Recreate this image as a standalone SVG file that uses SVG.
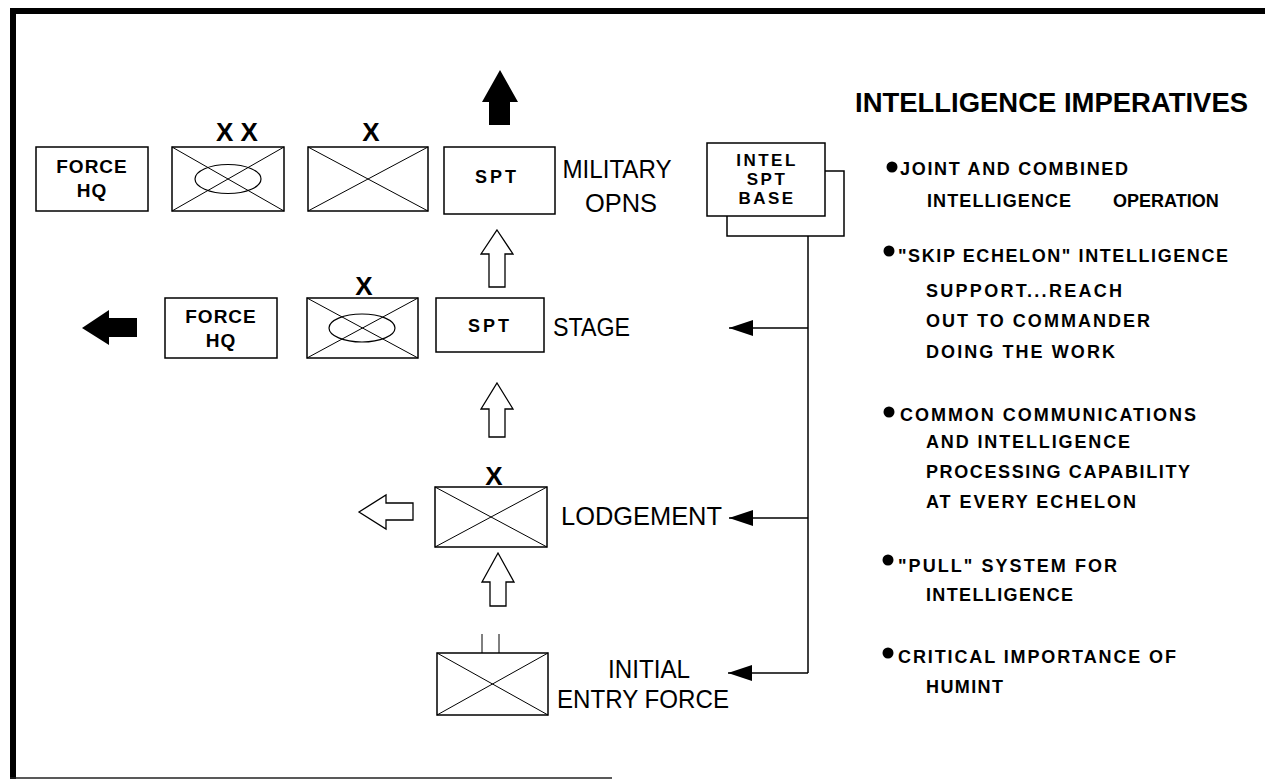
<svg xmlns="http://www.w3.org/2000/svg" width="1265" height="780" viewBox="0 0 1265 780">
<style>
.bx{fill:#fff;stroke:#000;stroke-width:1.5}
.dg{stroke:#000;stroke-width:1;fill:none}
.el{fill:none;stroke:#000;stroke-width:1.2}
.lb{font-family:"Liberation Sans",Arial,sans-serif;font-weight:bold;fill:#000;text-anchor:middle}
.big{font-family:"Liberation Sans",Arial,sans-serif;fill:#000;font-size:26px}
.bl{font-family:"Liberation Sans",Arial,sans-serif;font-weight:bold;fill:#000;font-size:18px}
.ho{fill:#fff;stroke:#000;stroke-width:1.3;stroke-linejoin:miter}
.sol{fill:#000;stroke:none}
.cn{stroke:#000;stroke-width:1.5;fill:none}
</style>
<defs>
<marker id="ah" viewBox="0 0 24 16" refX="24" refY="8" markerWidth="24" markerHeight="16" markerUnits="userSpaceOnUse" orient="auto">
<path d="M0,0 L24,8 L0,16 Z" fill="#000"/>
</marker>
</defs>
<rect width="1265" height="780" fill="#fff"/>
<g id="frame">
<rect x="10" y="8" width="1255" height="6" fill="#000"/>
<rect x="10" y="8" width="6" height="771" fill="#000"/>
<line x1="10" y1="778" x2="612" y2="778" stroke="#222" stroke-width="1.5"/>
</g>

<g id="forcehq1">
<rect class="bx" x="36" y="147" width="112" height="64"/>
<text class="lb" x="92" y="173" font-size="19" letter-spacing="1">FORCE</text>
<text class="lb" x="92" y="197" font-size="19" letter-spacing="1">HQ</text>
</g>
<g id="div1">
<rect class="bx" x="172" y="147" width="112" height="64"/>
<path class="dg" d="M172,147 L284,211 M284,147 L172,211"/>
<ellipse class="el" cx="228" cy="179" rx="33" ry="14.5"/>
<text class="lb" x="237" y="141" font-size="26">X X</text>
</g>
<g id="bde1">
<rect class="bx" x="308" y="147" width="120" height="64"/>
<path class="dg" d="M308,147 L428,211 M428,147 L308,211"/>
<text class="lb" x="371" y="141" font-size="26">X</text>
</g>
<g id="spt1">
<rect class="bx" x="444" y="147" width="111" height="67"/>
<text class="lb" x="497" y="183" font-size="18" letter-spacing="3">SPT</text>
</g>
<g id="milopns">
<text class="big" x="617" y="178" text-anchor="middle" textLength="109" lengthAdjust="spacingAndGlyphs">MILITARY</text>
<text class="big" x="621" y="212" text-anchor="middle" textLength="72" lengthAdjust="spacingAndGlyphs">OPNS</text>
</g>
<g id="uparrow-solid">
<polygon class="sol" points="500,70 518,102 510,102 510,125 489,125 489,102 482,102"/>
</g>

<g id="leftarrow-solid">
<polygon class="sol" points="82,328 109,310 109,318 137,318 137,337 109,337 109,345"/>
</g>
<g id="forcehq2">
<rect class="bx" x="165" y="298" width="112" height="60"/>
<text class="lb" x="221" y="323" font-size="19" letter-spacing="1">FORCE</text>
<text class="lb" x="221" y="347" font-size="19" letter-spacing="1">HQ</text>
</g>
<g id="bde2">
<rect class="bx" x="307" y="298" width="111" height="60"/>
<path class="dg" d="M307,298 L418,358 M418,298 L307,358"/>
<ellipse class="el" cx="362" cy="328" rx="33" ry="14"/>
<text class="lb" x="364" y="295" font-size="26">X</text>
</g>
<g id="spt2">
<rect class="bx" x="436" y="298" width="108" height="54"/>
<text class="lb" x="490" y="332" font-size="18" letter-spacing="3">SPT</text>
</g>
<g id="stage">
<text class="big" x="553" y="336" textLength="77" lengthAdjust="spacingAndGlyphs">STAGE</text>
</g>

<g id="leftarrow-hollow">
<polygon class="ho" points="359,512 386,495 386,503 413,503 413,520 386,520 386,529"/>
</g>
<g id="bde3">
<rect class="bx" x="435" y="487" width="112" height="60"/>
<path class="dg" d="M435,487 L547,547 M547,487 L435,547"/>
<text class="lb" x="494" y="485" font-size="26">X</text>
</g>
<g id="lodgement">
<text class="big" x="561" y="525" textLength="161" lengthAdjust="spacingAndGlyphs">LODGEMENT</text>
</g>

<g id="initial">
<rect class="bx" x="437" y="653" width="111" height="62"/>
<path class="dg" d="M437,653 L548,715 M548,653 L437,715"/>
<line class="dg" x1="482" y1="634" x2="482" y2="653" stroke-width="1.3"/>
<line class="dg" x1="499" y1="634" x2="499" y2="653" stroke-width="1.3"/>
</g>
<g id="initialentry">
<text class="big" x="649" y="678" text-anchor="middle" textLength="82" lengthAdjust="spacingAndGlyphs">INITIAL</text>
<text class="big" x="643" y="708" text-anchor="middle" textLength="172" lengthAdjust="spacingAndGlyphs">ENTRY FORCE</text>
</g>

<g id="uparrows-hollow">
<polygon class="ho" points="497,230 513,254 505,254 505,287 489,287 489,254 481,254"/>
<polygon class="ho" points="497,383 513,409 505,409 505,437 489,437 489,409 481,409"/>
<polygon class="ho" points="498,553 514,582 506,582 506,606 490,606 490,582 482,582"/>
</g>

<g id="intelbase">
<rect class="bx" x="727" y="171" width="117" height="65"/>
<rect class="bx" x="707" y="143" width="118" height="73"/>
<text class="lb" x="767" y="166" font-size="17" letter-spacing="2.5">INTEL</text>
<text class="lb" x="767" y="185" font-size="17" letter-spacing="2.5">SPT</text>
<text class="lb" x="767" y="204" font-size="17" letter-spacing="2.5">BASE</text>
</g>

<g id="connectors">
<line class="cn" x1="808" y1="236" x2="808" y2="673"/>
<line class="cn" x1="808" y1="328" x2="729" y2="328" marker-end="url(#ah)"/>
<line class="cn" x1="808" y1="518" x2="729" y2="518" marker-end="url(#ah)"/>
<line class="cn" x1="808" y1="673" x2="728" y2="673" marker-end="url(#ah)"/>
</g>

<g id="imperatives">
<text x="855" y="112" font-family="'Liberation Sans',Arial,sans-serif" font-weight="bold" font-size="27" textLength="393" lengthAdjust="spacingAndGlyphs">INTELLIGENCE IMPERATIVES</text>
<circle cx="892" cy="167" r="5.5"/>
<text class="bl" x="900" y="175" textLength="228" lengthAdjust="spacing">JOINT AND COMBINED</text>
<text class="bl" y="207" letter-spacing="1.1"><tspan x="927">INTELLIGENCE</tspan><tspan x="1113" letter-spacing="0">OPERATION</tspan></text>
<circle cx="889" cy="251" r="5.5"/>
<text class="bl" x="898" y="262" textLength="330" lengthAdjust="spacing">"SKIP ECHELON" INTELLIGENCE</text>
<text class="bl" x="926" y="297" textLength="196" lengthAdjust="spacing">SUPPORT...REACH</text>
<text class="bl" x="926" y="327" textLength="224" lengthAdjust="spacing">OUT TO COMMANDER</text>
<text class="bl" x="926" y="358" textLength="189" lengthAdjust="spacing">DOING THE WORK</text>
<circle cx="889" cy="412" r="5.5"/>
<text class="bl" x="900" y="421" textLength="296" lengthAdjust="spacing">COMMON COMMUNICATIONS</text>
<text class="bl" x="926" y="448" textLength="204" lengthAdjust="spacing">AND INTELLIGENCE</text>
<text class="bl" x="926" y="478" textLength="264" lengthAdjust="spacing">PROCESSING CAPABILITY</text>
<text class="bl" x="926" y="508" textLength="210" lengthAdjust="spacing">AT EVERY ECHELON</text>
<circle cx="888" cy="560" r="5.5"/>
<text class="bl" x="898" y="572" textLength="219" lengthAdjust="spacing">"PULL" SYSTEM FOR</text>
<text class="bl" x="926" y="601" textLength="147" lengthAdjust="spacing">INTELLIGENCE</text>
<circle cx="888" cy="653" r="5.5"/>
<text class="bl" x="898" y="663" textLength="278" lengthAdjust="spacing">CRITICAL IMPORTANCE OF</text>
<text class="bl" x="926" y="693" textLength="77" lengthAdjust="spacing">HUMINT</text>
</g>
</svg>
